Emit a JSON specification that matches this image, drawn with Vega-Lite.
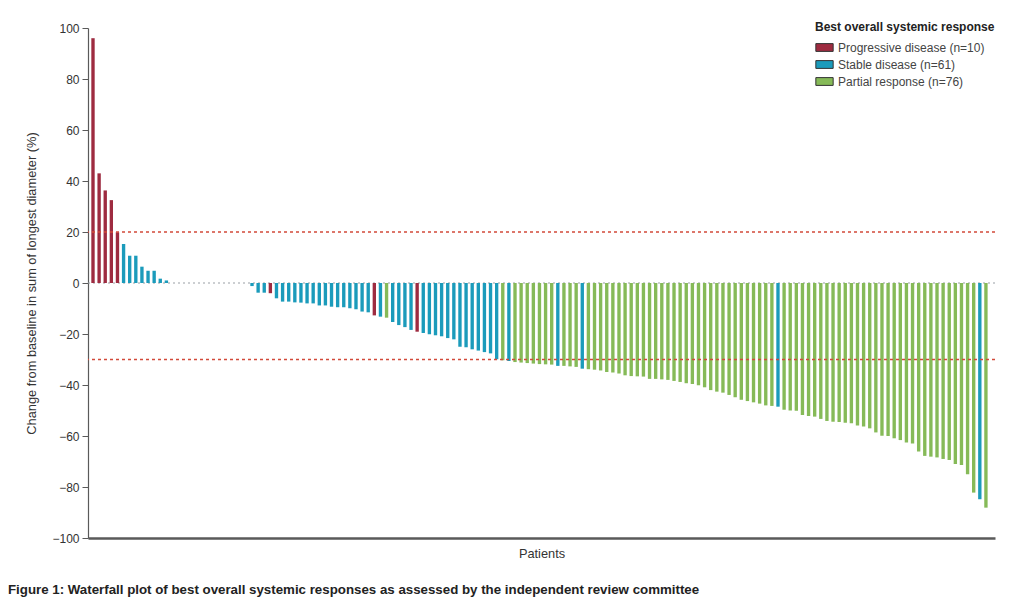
{
  "$schema": "https://vega.github.io/schema/vega-lite/v6.json",
  "width": 907,
  "height": 510,
  "autosize": "none",
  "padding": {"left": 88, "top": 28, "right": 20, "bottom": 68},
  "background": "white",
  "config": {
    "font": "Liberation Sans, Arial, sans-serif",
    "view": {"stroke": null},
    "axis": {"labelFontSize": 12, "titleFontSize": 12.8, "labelColor": "#333", "titleColor": "#333", "titleFontWeight": "normal", "grid": false}
  },
  "title": {
    "text": "Figure 1: Waterfall plot of best overall systemic responses as assessed by the independent review committee",
    "orient": "bottom",
    "anchor": "start",
    "frame": "bounds",
    "offset": 23,
    "dx": -18,
    "fontSize": 13.3,
    "fontWeight": "bold",
    "color": "#222"
  },
  "datasets": {
    "zero": [{"v": 0}],
    "cuts": [{"v": 20}, {"v": -30}],
    "bars": [
      {"p":1,"v":96,"r":"Progressive disease (n=10)"},
      {"p":2,"v":43,"r":"Progressive disease (n=10)"},
      {"p":3,"v":36.3,"r":"Progressive disease (n=10)"},
      {"p":4,"v":32.5,"r":"Progressive disease (n=10)"},
      {"p":5,"v":19.9,"r":"Progressive disease (n=10)"},
      {"p":6,"v":15.3,"r":"Stable disease (n=61)"},
      {"p":7,"v":10.7,"r":"Stable disease (n=61)"},
      {"p":8,"v":10.7,"r":"Stable disease (n=61)"},
      {"p":9,"v":6.4,"r":"Stable disease (n=61)"},
      {"p":10,"v":4.8,"r":"Stable disease (n=61)"},
      {"p":11,"v":4.8,"r":"Stable disease (n=61)"},
      {"p":12,"v":1.7,"r":"Stable disease (n=61)"},
      {"p":13,"v":1,"r":"Stable disease (n=61)"},
      {"p":14,"v":0,"r":"Progressive disease (n=10)"},
      {"p":15,"v":0,"r":"Progressive disease (n=10)"},
      {"p":16,"v":0,"r":"Stable disease (n=61)"},
      {"p":17,"v":0,"r":"Stable disease (n=61)"},
      {"p":18,"v":0,"r":"Stable disease (n=61)"},
      {"p":19,"v":0,"r":"Stable disease (n=61)"},
      {"p":20,"v":0,"r":"Stable disease (n=61)"},
      {"p":21,"v":0,"r":"Stable disease (n=61)"},
      {"p":22,"v":0,"r":"Stable disease (n=61)"},
      {"p":23,"v":0,"r":"Stable disease (n=61)"},
      {"p":24,"v":0,"r":"Stable disease (n=61)"},
      {"p":25,"v":0,"r":"Stable disease (n=61)"},
      {"p":26,"v":0,"r":"Stable disease (n=61)"},
      {"p":27,"v":-1.2,"r":"Stable disease (n=61)"},
      {"p":28,"v":-3.8,"r":"Stable disease (n=61)"},
      {"p":29,"v":-3.8,"r":"Stable disease (n=61)"},
      {"p":30,"v":-4,"r":"Progressive disease (n=10)"},
      {"p":31,"v":-6,"r":"Stable disease (n=61)"},
      {"p":32,"v":-7.3,"r":"Stable disease (n=61)"},
      {"p":33,"v":-7.3,"r":"Stable disease (n=61)"},
      {"p":34,"v":-7.6,"r":"Stable disease (n=61)"},
      {"p":35,"v":-7.7,"r":"Stable disease (n=61)"},
      {"p":36,"v":-8,"r":"Stable disease (n=61)"},
      {"p":37,"v":-8,"r":"Stable disease (n=61)"},
      {"p":38,"v":-8.8,"r":"Stable disease (n=61)"},
      {"p":39,"v":-8.8,"r":"Stable disease (n=61)"},
      {"p":40,"v":-9.3,"r":"Stable disease (n=61)"},
      {"p":41,"v":-9.5,"r":"Stable disease (n=61)"},
      {"p":42,"v":-9.5,"r":"Stable disease (n=61)"},
      {"p":43,"v":-9.9,"r":"Stable disease (n=61)"},
      {"p":44,"v":-10.3,"r":"Stable disease (n=61)"},
      {"p":45,"v":-11.2,"r":"Stable disease (n=61)"},
      {"p":46,"v":-11.5,"r":"Stable disease (n=61)"},
      {"p":47,"v":-12.7,"r":"Progressive disease (n=10)"},
      {"p":48,"v":-13.2,"r":"Stable disease (n=61)"},
      {"p":49,"v":-13.6,"r":"Partial response (n=76)"},
      {"p":50,"v":-15.3,"r":"Stable disease (n=61)"},
      {"p":51,"v":-16.5,"r":"Stable disease (n=61)"},
      {"p":52,"v":-17.3,"r":"Stable disease (n=61)"},
      {"p":53,"v":-18.4,"r":"Stable disease (n=61)"},
      {"p":54,"v":-19.1,"r":"Progressive disease (n=10)"},
      {"p":55,"v":-19.6,"r":"Stable disease (n=61)"},
      {"p":56,"v":-20.1,"r":"Stable disease (n=61)"},
      {"p":57,"v":-20.5,"r":"Stable disease (n=61)"},
      {"p":58,"v":-20.9,"r":"Stable disease (n=61)"},
      {"p":59,"v":-21.6,"r":"Stable disease (n=61)"},
      {"p":60,"v":-22.1,"r":"Stable disease (n=61)"},
      {"p":61,"v":-25,"r":"Stable disease (n=61)"},
      {"p":62,"v":-25.2,"r":"Stable disease (n=61)"},
      {"p":63,"v":-26,"r":"Stable disease (n=61)"},
      {"p":64,"v":-26.5,"r":"Stable disease (n=61)"},
      {"p":65,"v":-27.1,"r":"Stable disease (n=61)"},
      {"p":66,"v":-27.6,"r":"Stable disease (n=61)"},
      {"p":67,"v":-29.9,"r":"Stable disease (n=61)"},
      {"p":68,"v":-30.3,"r":"Partial response (n=76)"},
      {"p":69,"v":-30.6,"r":"Stable disease (n=61)"},
      {"p":70,"v":-31,"r":"Partial response (n=76)"},
      {"p":71,"v":-31.2,"r":"Partial response (n=76)"},
      {"p":72,"v":-31.4,"r":"Partial response (n=76)"},
      {"p":73,"v":-31.6,"r":"Partial response (n=76)"},
      {"p":74,"v":-31.8,"r":"Partial response (n=76)"},
      {"p":75,"v":-31.9,"r":"Partial response (n=76)"},
      {"p":76,"v":-32,"r":"Partial response (n=76)"},
      {"p":77,"v":-32.5,"r":"Stable disease (n=61)"},
      {"p":78,"v":-32.5,"r":"Partial response (n=76)"},
      {"p":79,"v":-32.7,"r":"Partial response (n=76)"},
      {"p":80,"v":-32.9,"r":"Partial response (n=76)"},
      {"p":81,"v":-33.6,"r":"Stable disease (n=61)"},
      {"p":82,"v":-33.8,"r":"Partial response (n=76)"},
      {"p":83,"v":-34,"r":"Partial response (n=76)"},
      {"p":84,"v":-34.3,"r":"Partial response (n=76)"},
      {"p":85,"v":-34.9,"r":"Partial response (n=76)"},
      {"p":86,"v":-35.1,"r":"Partial response (n=76)"},
      {"p":87,"v":-35.5,"r":"Partial response (n=76)"},
      {"p":88,"v":-36.2,"r":"Partial response (n=76)"},
      {"p":89,"v":-36.5,"r":"Partial response (n=76)"},
      {"p":90,"v":-36.6,"r":"Partial response (n=76)"},
      {"p":91,"v":-36.7,"r":"Partial response (n=76)"},
      {"p":92,"v":-37.6,"r":"Partial response (n=76)"},
      {"p":93,"v":-37.6,"r":"Partial response (n=76)"},
      {"p":94,"v":-37.8,"r":"Partial response (n=76)"},
      {"p":95,"v":-38,"r":"Partial response (n=76)"},
      {"p":96,"v":-38.4,"r":"Partial response (n=76)"},
      {"p":97,"v":-38.8,"r":"Partial response (n=76)"},
      {"p":98,"v":-39.3,"r":"Partial response (n=76)"},
      {"p":99,"v":-39.6,"r":"Partial response (n=76)"},
      {"p":100,"v":-40.1,"r":"Partial response (n=76)"},
      {"p":101,"v":-40.9,"r":"Partial response (n=76)"},
      {"p":102,"v":-42,"r":"Partial response (n=76)"},
      {"p":103,"v":-42.6,"r":"Partial response (n=76)"},
      {"p":104,"v":-43,"r":"Partial response (n=76)"},
      {"p":105,"v":-43.9,"r":"Partial response (n=76)"},
      {"p":106,"v":-44.8,"r":"Partial response (n=76)"},
      {"p":107,"v":-45.8,"r":"Partial response (n=76)"},
      {"p":108,"v":-46.3,"r":"Partial response (n=76)"},
      {"p":109,"v":-46.8,"r":"Partial response (n=76)"},
      {"p":110,"v":-47.3,"r":"Partial response (n=76)"},
      {"p":111,"v":-48,"r":"Partial response (n=76)"},
      {"p":112,"v":-48.2,"r":"Partial response (n=76)"},
      {"p":113,"v":-48.5,"r":"Stable disease (n=61)"},
      {"p":114,"v":-49.7,"r":"Partial response (n=76)"},
      {"p":115,"v":-50,"r":"Partial response (n=76)"},
      {"p":116,"v":-50.1,"r":"Partial response (n=76)"},
      {"p":117,"v":-51.8,"r":"Partial response (n=76)"},
      {"p":118,"v":-52.2,"r":"Partial response (n=76)"},
      {"p":119,"v":-52.4,"r":"Partial response (n=76)"},
      {"p":120,"v":-53.3,"r":"Partial response (n=76)"},
      {"p":121,"v":-54.1,"r":"Partial response (n=76)"},
      {"p":122,"v":-54.4,"r":"Partial response (n=76)"},
      {"p":123,"v":-54.5,"r":"Partial response (n=76)"},
      {"p":124,"v":-54.8,"r":"Partial response (n=76)"},
      {"p":125,"v":-55,"r":"Partial response (n=76)"},
      {"p":126,"v":-55.9,"r":"Partial response (n=76)"},
      {"p":127,"v":-56.3,"r":"Partial response (n=76)"},
      {"p":128,"v":-57,"r":"Partial response (n=76)"},
      {"p":129,"v":-58.6,"r":"Partial response (n=76)"},
      {"p":130,"v":-59.9,"r":"Partial response (n=76)"},
      {"p":131,"v":-60,"r":"Partial response (n=76)"},
      {"p":132,"v":-60.9,"r":"Partial response (n=76)"},
      {"p":133,"v":-61.6,"r":"Partial response (n=76)"},
      {"p":134,"v":-62.5,"r":"Partial response (n=76)"},
      {"p":135,"v":-62.9,"r":"Partial response (n=76)"},
      {"p":136,"v":-66.1,"r":"Partial response (n=76)"},
      {"p":137,"v":-67.8,"r":"Partial response (n=76)"},
      {"p":138,"v":-68.1,"r":"Partial response (n=76)"},
      {"p":139,"v":-68.4,"r":"Partial response (n=76)"},
      {"p":140,"v":-69,"r":"Partial response (n=76)"},
      {"p":141,"v":-69.4,"r":"Partial response (n=76)"},
      {"p":142,"v":-71,"r":"Partial response (n=76)"},
      {"p":143,"v":-71.4,"r":"Partial response (n=76)"},
      {"p":144,"v":-75,"r":"Partial response (n=76)"},
      {"p":145,"v":-82.2,"r":"Partial response (n=76)"},
      {"p":146,"v":-84.8,"r":"Stable disease (n=61)"},
      {"p":147,"v":-88.1,"r":"Partial response (n=76)"}
    ]
  },
  "layer": [
    {
      "data": {"name": "zero"},
      "mark": {"type": "rule", "color": "#9aa0a6", "strokeDash": [2, 3], "strokeWidth": 1.2},
      "encoding": {
        "y": {"field": "v", "type": "quantitative", "scale": {"domain": [-100, 100], "nice": false}, "title": "Change from baseline in sum of longest diameter (%)"}
      }
    },
    {
      "data": {"name": "bars"},
      "mark": {"type": "bar"},
      "encoding": {
        "x": {
          "field": "p", "type": "ordinal",
          "scale": {"paddingInner": 0.45, "paddingOuter": 0.875, "align": 0.31},
          "axis": {"title": "Patients", "labels": false, "ticks": false, "domainColor": "#5a5a5a", "domainWidth": 2.5, "titlePadding": 9}
        },
        "y": {
          "field": "v", "type": "quantitative",
          "title": "Change from baseline in sum of longest diameter (%)",
          "axis": {"values": [-100, -80, -60, -40, -20, 0, 20, 40, 60, 80, 100], "domainColor": "#5a5a5a", "domainWidth": 1.2, "tickColor": "#5a5a5a", "tickSize": 6, "labelPadding": 3, "titlePadding": 13}
        },
        "color": {
          "field": "r", "type": "nominal",
          "scale": {"domain": ["Progressive disease (n=10)", "Stable disease (n=61)", "Partial response (n=76)"], "range": ["#9e2b40", "#1b9bbb", "#86ba58"]},
          "legend": {
            "title": "Best overall systemic response",
            "orient": "none", "legendX": 727, "legendY": -6,
            "titleFontSize": 12, "titleFontWeight": "bold", "titleColor": "#222",
            "labelFontSize": 12, "labelColor": "#444",
            "symbolType": "M-1,-0.45H1V0.45H-1Z", "symbolSize": 300,
            "symbolStrokeColor": "#333", "symbolStrokeWidth": 1,
            "rowPadding": 1, "titlePadding": 4, "padding": 0
          }
        }
      }
    },
    {
      "data": {"name": "cuts"},
      "mark": {"type": "rule", "stroke": "#d24a3a", "strokeDash": [3, 3], "strokeWidth": 1.5},
      "encoding": {
        "y": {"field": "v", "type": "quantitative", "title": "Change from baseline in sum of longest diameter (%)"}
      }
    }
  ]
}
